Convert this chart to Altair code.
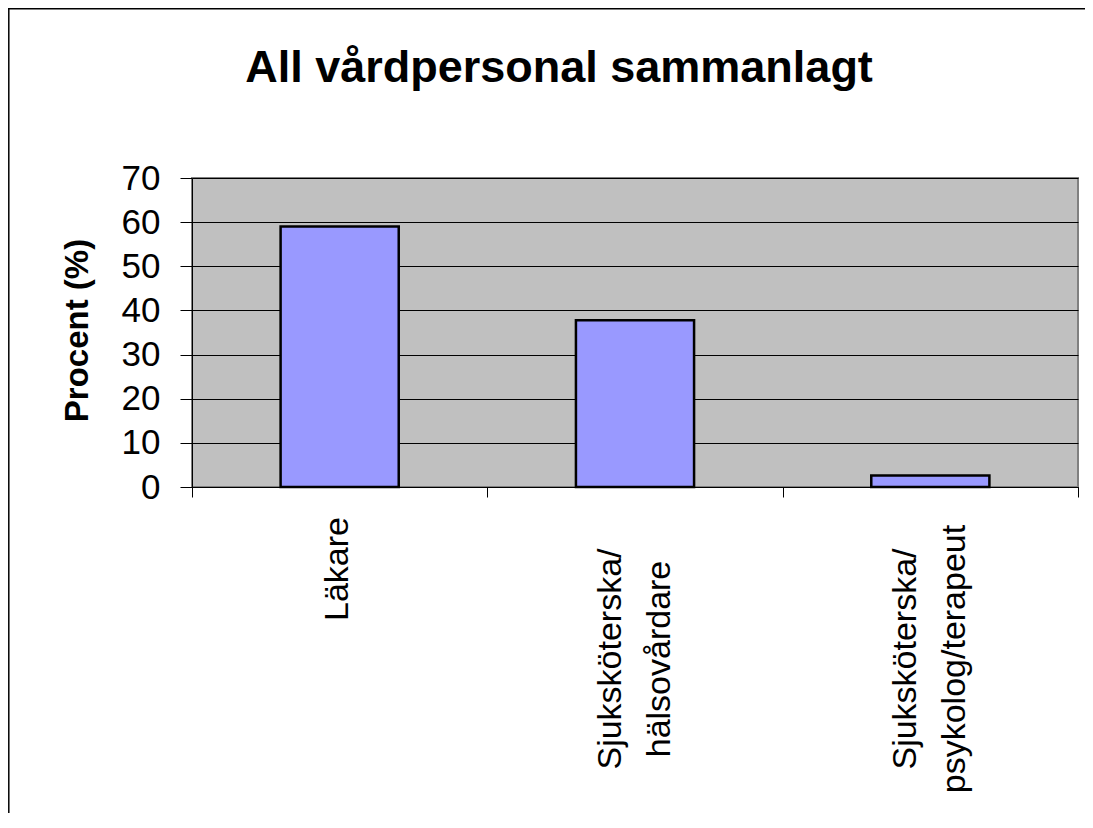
import altair as alt
import pandas as pd

categories = ["Läkare", "Sjuksköterska/|hälsovårdare", "Sjuksköterska/|psykolog/terapeut"]
values = [59.0, 37.8, 2.6]
y_ticks = [0, 10, 20, 30, 40, 50, 60, 70]

df = pd.DataFrame({"kategori": categories, "procent": values})

FONT = "Liberation Sans"
W, H = 886, 309
PAD = {"left": 184, "top": 170, "right": 7, "bottom": 326}
BAR_W = 0.4 * W / len(categories)
MULTI = "indexof(datum.kategori, '|') >= 0"

x_enc = alt.X(
    "kategori:N",
    sort=None,
    scale=alt.Scale(paddingInner=0, paddingOuter=0),
    axis=alt.Axis(
        title=None,
        labels=False,
        tickBand="extent",
        tickSize=10,
        tickColor="#000000",
        domainColor="#000000",
    ),
)

bars = alt.Chart(df).mark_bar(
    color="#9999FF", stroke="#000000", strokeWidth=2.5, width=BAR_W,
).encode(
    x=x_enc,
    y=alt.Y(
        "procent:Q",
        scale=alt.Scale(domain=[0, 70], nice=False),
        axis=alt.Axis(
            title="Procent (%)",
            values=y_ticks,
            titleFont=FONT,
            titleFontSize=33,
            titleFontWeight="bold",
            titleColor="#000000",
            titleX=-105,
            titleY=152,
            titleAlign="center",
            titleBaseline="alphabetic",
            titleAngle=-90,
            labelFont=FONT,
            labelFontSize=35,
            labelColor="#000000",
            labelPadding=20,
            tickSize=12,
            tickColor="#000000",
            domainColor="#000000",
            grid=True,
            gridColor="#000000",
            gridWidth=1,
        ),
    ),
)

label_single = alt.Chart(df).transform_filter(f"!({MULTI})").mark_text(
    font=FONT, fontSize=34, color="#000000", angle=270,
    align="right", baseline="middle", dy=-2,
).encode(
    x=alt.X("kategori:N", sort=None),
    y=alt.value(H + 30),
    text="kategori:N",
)

label_multi = alt.Chart(df).transform_filter(MULTI).mark_text(
    font=FONT, fontSize=34, color="#000000", angle=270,
    align="center", baseline="middle", lineBreak="|", lineHeight=49, dy=-24,
).encode(
    x=alt.X("kategori:N", sort=None),
    y=alt.value(H + 172),
    text="kategori:N",
)

frame_data = alt.Data(values=[{}])
left_border = alt.Chart(frame_data).mark_rule(color="#000000", strokeWidth=1.5).encode(
    x=alt.value(-183.2), y=alt.value(-PAD["top"]), y2=alt.value(H + PAD["bottom"])
)
top_border = alt.Chart(frame_data).mark_rule(color="#000000", strokeWidth=1.5).encode(
    x=alt.value(-PAD["left"]), x2=alt.value(W + PAD["right"]), y=alt.value(-169.2)
)

chart = alt.layer(bars, label_single, label_multi, left_border, top_border).properties(
    width=W,
    height=H,
    autosize=alt.AutoSizeParams(type="none"),
    padding=PAD,
    background="#FFFFFF",
    title=alt.TitleParams(
        text="All vårdpersonal sammanlagt",
        font=FONT,
        fontSize=45,
        fontWeight="bold",
        color="#000000",
        anchor="middle",
        frame="group",
        offset=-84,
        dx=-76,
    ),
).configure_view(
    fill="#C0C0C0", stroke="#808080", strokeWidth=2
)

chart.save("out.html", embed_options={"renderer": "svg", "actions": False})
